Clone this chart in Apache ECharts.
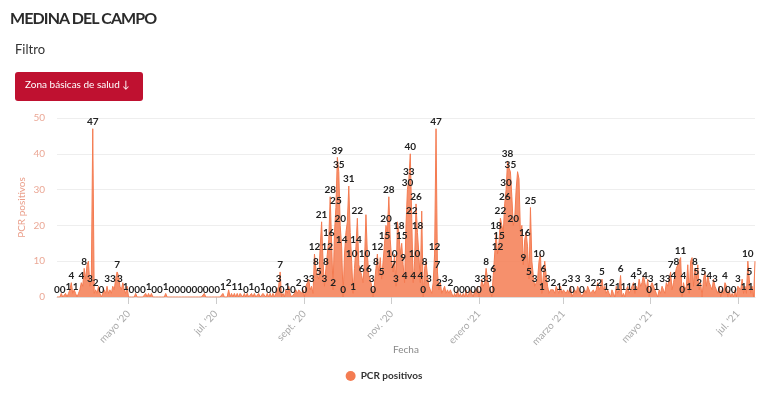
<!DOCTYPE html>
<html>
<head>
<meta charset="utf-8">
<script src="https://cdn.jsdelivr.net/npm/echarts@6/dist/echarts.min.js"></script>
<style>
  html, body { margin: 0; padding: 0; background: #fff; }
  #wrap { position: relative; width: 768px; height: 410px; }
  #chart { width: 768px; height: 410px; }
  #title { position: absolute; left: 10px; top: 8px; font: bold 16px Lato, sans-serif; letter-spacing: -0.9px; color: #2b2b2b; }
</style>
</head>
<body>
<div id="wrap">
  <div id="chart"></div>
  <div id="title">MEDINA DEL CAMPO</div>
</div>
<script>
// ---- data ----
const startDate = '2020-03-12';
const seriesName = 'PCR positivos';
const pcrPositivos = [
  0,0,0,1,0,0,1,0,1,2,
  4,1,2,1,0,1,2,4,3,8,
  5,9,10,3,5,47,1,2,1,3,
  1,0,0,2,1,3,1,2,1,3,
  2,5,7,6,3,2,4,2,1,3,
  0,0,0,0,0,1,0,0,0,0,
  0,0,1,0,1,0,1,0,0,0,
  0,0,0,0,0,0,1,0,0,0,
  0,0,0,0,0,0,0,0,0,0,
  0,0,0,0,0,0,0,0,0,0,
  0,0,0,1,0,0,0,0,0,0,
  0,0,0,0,0,0,1,0,0,0,
  2,0,1,0,1,0,1,0,1,1,
  0,1,0,1,0,0,1,0,1,0,
  0,1,0,0,1,1,0,1,0,1,
  0,1,0,1,2,3,7,0,1,0,
  2,1,3,1,0,0,1,2,1,2,
  2,1,2,0,3,4,5,2,3,1,
  12,8,6,5,14,21,10,3,8,12,
  16,28,15,2,18,25,39,35,20,14,
  0,12,18,21,31,18,10,1,8,14,
  22,9,9,6,4,10,23,12,6,5,
  3,0,4,8,12,6,11,5,10,15,
  20,18,28,16,10,7,12,3,21,18,
  12,15,9,4,20,30,33,40,22,4,
  10,26,18,12,4,24,0,8,10,6,
  3,2,1,4,12,47,7,2,4,1,
  2,3,1,2,1,2,1,0,1,0,
  2,0,1,0,1,0,2,0,1,2,
  1,0,2,1,3,0,2,5,3,4,
  8,5,3,2,0,6,6,18,12,15,
  22,20,18,26,30,38,36,35,28,20,
  22,30,35,33,18,20,9,16,18,14,
  5,25,10,6,3,4,5,10,12,1,
  6,10,6,3,1,2,2,2,1,3,
  2,1,3,1,2,2,1,2,1,3,
  0,1,2,1,3,2,1,0,0,2,
  1,3,2,1,1,2,1,2,4,2,
  3,5,2,3,1,2,1,0,2,1,
  0,3,1,2,6,0,1,0,2,3,
  1,2,3,4,1,3,2,5,3,4,
  6,4,2,5,0,3,4,4,2,1,
  0,2,1,3,2,1,4,3,5,7,
  2,4,6,8,9,10,11,0,4,2,
  3,9,1,10,11,3,8,5,9,2,
  4,0,5,7,3,6,4,3,2,5,
  3,2,1,3,0,2,1,4,3,0,
  2,0,1,0,2,0,3,3,2,5,
  1,3,1,10,5,1,3,0,10
];
const tickDates = ['2020-05-01','2020-07-01','2020-09-01','2020-11-01','2021-01-01','2021-03-01','2021-05-01','2021-07-01'];
const tickLabels = ["mayo '20","jul. '20","sept. '20","nov. '20","enero '21","marzo '21","mayo '21","jul. '21"];

// ---- build categories (one per day) ----
const dates = [];
(function () {
  const t0 = Date.UTC(+startDate.slice(0,4), +startDate.slice(5,7) - 1, +startDate.slice(8,10));
  for (let i = 0; i < pcrPositivos.length; i++) {
    dates.push(new Date(t0 + i * 86400000).toISOString().slice(0, 10));
  }
})();
const tickMap = {};
tickDates.forEach((d, i) => { tickMap[d] = tickLabels[i]; });
const isTick = (idx, val) => tickMap[val] !== undefined;

const color = '#f47c52';
const chart = echarts.init(document.getElementById('chart'), null, { renderer: 'canvas' });
chart.setOption({
  animation: false,
  textStyle: { fontFamily: 'Lato' },
  graphic: [
    { type: 'text', left: 15, top: 43, style: { text: 'Filtro', fontFamily: 'Lato', fontSize: 13, fill: '#333' } },
    { type: 'rect', left: 15, top: 72, shape: { width: 128, height: 29, r: 3 }, style: { fill: '#bf1130' } },
    { type: 'text', left: 25, top: 80, style: { text: 'Zona básicas de salud ↓', fontFamily: 'Lato', fontSize: 10, fill: '#fff' } }
  ],
  legend: {
    data: [seriesName],
    bottom: 24,
    left: 'center',
    icon: 'circle',
    itemWidth: 10, itemHeight: 10, itemGap: 6,
    textStyle: { fontFamily: 'Lato', fontSize: 10, fontWeight: 'bold', color: '#333' }
  },
  grid: { left: 57, right: 13, top: 118, bottom: 113 },
  xAxis: {
    type: 'category',
    data: dates,
    boundaryGap: false,
    name: 'Fecha',
    nameLocation: 'middle',
    nameGap: 48,
    nameMoveOverlap: false,
    nameTextStyle: { fontFamily: 'Lato', fontSize: 10, color: '#888' },
    axisLine: { show: true, lineStyle: { color: '#ddd' } },
    axisTick: { show: true, interval: isTick, length: 7, lineStyle: { color: '#ccc' } },
    axisLabel: {
      interval: isTick,
      formatter: (v) => tickMap[v] || '',
      rotate: 47,
      fontSize: 10,
      color: '#aaa',
      margin: 15
    },
    splitLine: { show: false }
  },
  yAxis: {
    type: 'value',
    min: 0, max: 50, interval: 10,
    name: 'PCR positivos',
    nameLocation: 'middle',
    nameGap: 30,
    nameMoveOverlap: false,
    nameTextStyle: { fontFamily: 'Lato', fontSize: 10, color: '#eba08c' },
    axisLine: { show: false },
    axisTick: { show: false },
    axisLabel: { fontSize: 10, color: '#eba896', margin: 12 },
    splitLine: { lineStyle: { color: '#eeeeee' } }
  },
  series: [{
    name: seriesName,
    type: 'line',
    data: pcrPositivos,
    symbol: 'circle',
    symbolSize: 0.1,
    showSymbol: true,
    showAllSymbol: true,
    itemStyle: { color: color },
    lineStyle: { color: color, width: 1 },
    areaStyle: { color: color, opacity: 0.85 },
    label: {
      show: true,
      position: 'top',
      distance: 2,
      fontFamily: 'Lato',
      fontSize: 10,
      fontWeight: 'bold',
      color: '#222'
    },
    labelLayout: { hideOverlap: true }
  }]
});
</script>
</body>
</html>
